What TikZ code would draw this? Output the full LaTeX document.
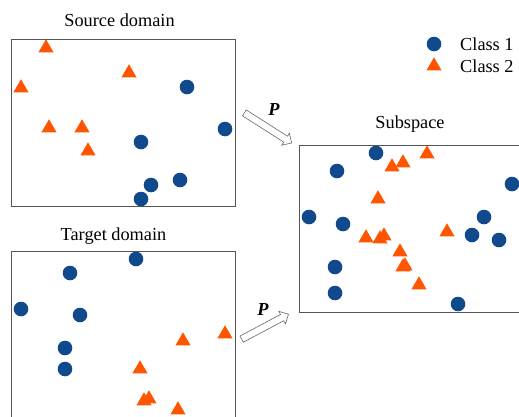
\documentclass[tikz,border=0pt]{standalone}
\usepackage{fontspec}
\setmainfont{Liberation Serif}
\usepackage{tikz}
\usetikzlibrary{shapes.geometric, shapes.arrows}

\definecolor{clsblue}{RGB}{16,74,140}
\definecolor{clsorange}{RGB}{255,84,0}
\definecolor{framegray}{RGB}{85,85,85}

\begin{document}
\begin{tikzpicture}[
  x=1pt, y=-1pt,
  frame/.style={draw=framegray, line width=1pt},
  title/.style={font=\fontsize{18.3}{22}\selectfont, inner sep=0pt},
  cls1/.style={circle, fill=clsblue, minimum size=14.6pt, inner sep=0pt},
  cls2/.style={regular polygon, regular polygon sides=3, fill=clsorange,
    minimum size=17.5pt, inner sep=0pt},
  proj/.style={single arrow, draw=gray!80!black, line width=0.6pt, fill=white,
    inner xsep=0pt, inner ysep=3.2pt, single arrow head extend=3.6pt,
    single arrow head indent=0pt, shape border uses incircle=false},
  plabel/.style={font=\fontsize{18.3}{22}\selectfont\bfseries\itshape, inner sep=0pt}
]
\clip (0,0) rectangle (519,416);
\fill[white] (0,0) rectangle (519,416);

% boxes and titles
\draw[frame] (11,39) rectangle (235,206);
\draw[frame] (11,251) rectangle (235,430);
\draw[frame] (299,145) rectangle (530,312);
\node[title] (srctitle) at (119.5,20) {Source domain};
\node[title] (tgttitle) at (113.5,236) {Target domain};
\node[title] (subtitle) at (410,124) {Subspace};

% legend
\node[cls1] (leg1) at (434,44) {};
\node[cls2] (leg2) at (434,66) {};
\node[title, anchor=west] (leg1text) at (460,44) {Class 1};
\node[title, anchor=west] (leg2text) at (460,66) {Class 2};

% projections
\node[proj, minimum height=56pt, rotate=-32.5] (projs) at (266.5,127) {};
\node[proj, minimum height=53pt, rotate=28] (projt) at (263.5,327.5) {};
\node[plabel] (ps) at (274,110) {P};
\node[plabel] (pt) at (263,309) {P};

% source domain
\foreach \x/\y [count=\i] in {187/87, 225/129, 141/142, 151/185, 180/180, 141/199}
  \node[cls1] (s1\i) at (\x,\y) {};
\foreach \x/\y [count=\i] in {46/48, 129/73, 21/88, 49/128, 82/128, 88/151}
  \node[cls2] (s2\i) at (\x,\y) {};

% target domain
\foreach \x/\y [count=\i] in {136/259, 70/273, 21/309, 80/315, 65/348, 65/369}
  \node[cls1] (t1\i) at (\x,\y) {};
\foreach \x/\y [count=\i] in {225/334, 183/341, 140/369, 149/399, 144/401, 178/410}
  \node[cls2] (t2\i) at (\x,\y) {};

% subspace
\foreach \x/\y [count=\i] in {376/153, 337/171, 512/184, 309/217, 343/224, 484/217,
    472/235, 499/240, 335/267, 335/293, 458/304}
  \node[cls1] (p1\i) at (\x,\y) {};
\foreach \x/\y [count=\i] in {427/154, 392/167, 403/163, 378/199, 366/238, 380/239,
    384/236, 447/232, 400/252, 405/266, 403/267, 419/285}
  \node[cls2] (p2\i) at (\x,\y) {};
\end{tikzpicture}
\end{document}
